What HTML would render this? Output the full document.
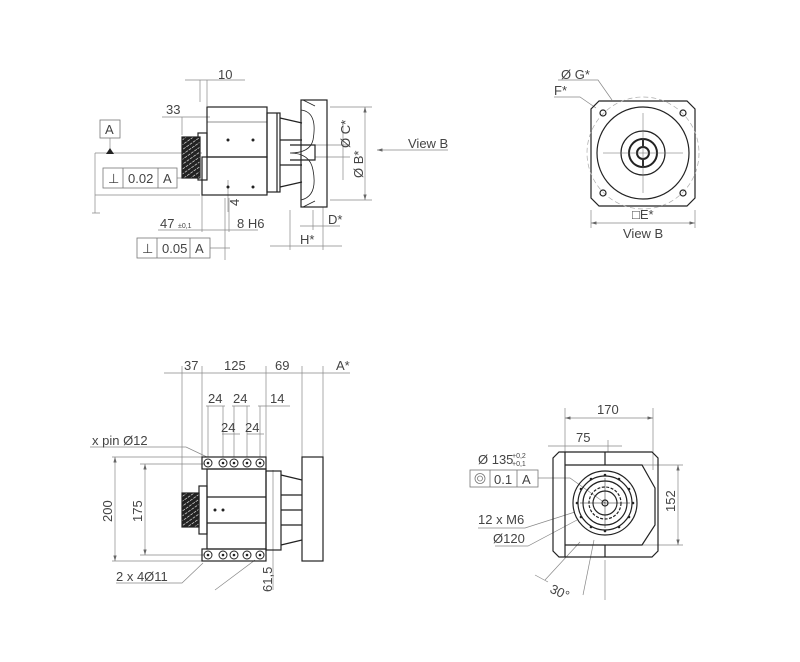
<!DOCTYPE html>
<html><head><meta charset="utf-8"><style>html,body{margin:0;padding:0;background:#fff}svg{display:block}</style></head>
<body>
<svg width="800" height="662" viewBox="0 0 800 662" xmlns="http://www.w3.org/2000/svg" font-family="Liberation Sans, sans-serif" fill="none" stroke="#222">
<defs>
<marker id="a" viewBox="0 0 10 6" refX="10" refY="3" markerWidth="8" markerHeight="5" orient="auto-start-reverse"><path d="M0,0L10,3L0,6z" fill="#666" stroke="none"/></marker>
<pattern id="h" width="4" height="4" patternUnits="userSpaceOnUse" patternTransform="rotate(-35)"><rect width="4" height="4" fill="#fff"/><rect width="4" height="2.4" fill="#222"/></pattern>
</defs>
<g stroke="#888" stroke-width="0.7">
<path d="M185,80H245M200,80V102M207,80V106" />
<path d="M162,117H210M182,117V135" />
<path d="M95,153H202M95,153V213M95,195H200M92,213H100"/>
<path d="M365,107H372M365,200H372M330,107H372M330,200H372" />
<line x1="365" y1="107" x2="365" y2="200" marker-start="url(#a)" marker-end="url(#a)"/>
<line x1="343" y1="122" x2="343" y2="180" />
<path d="M315,145H350M315,157H350"/>
<line x1="448" y1="150" x2="377" y2="150" marker-end="url(#a)"/>
<path d="M202,195V232M225,198V260M229,198V232M228,180V212"/>
<path d="M158,230H258"/>
<path d="M290,210V250M323,207V250M313,210V230"/>
<path d="M270,246H342M300,226H340"/>
<path d="M210,248H230"/>
<path d="M177,178H198"/>
<path d="M110,138V150"/>
<path d="M558,80H598L612,100M554,97H580L596,108"/>
<path d="M591,210V228M695,210V228"/>
<line x1="591" y1="223" x2="695" y2="223" marker-start="url(#a)" marker-end="url(#a)"/>
<path d="M164,373H350M182,366V500M202,366V457M266,366V460M302,366V457M323,366V457"/>
<path d="M208,406V457M223,406V457M234,406V457M247,406V457M260,406V457"/>
<path d="M206,406H225M232,406H250M258,406H290M222,434H240M247,434H264"/>
<path d="M90,447H186L207,457"/>
<path d="M112,457H205M112,561H205M140,464H205M140,555H205"/>
<line x1="115" y1="457" x2="115" y2="561" marker-start="url(#a)" marker-end="url(#a)"/>
<line x1="145" y1="464" x2="145" y2="555" marker-start="url(#a)" marker-end="url(#a)"/>
<path d="M116,583H182L203,563M215,590L255,560M273,470V590"/>
<path d="M565,408V452M653,408V470M608,440V452"/>
<line x1="565" y1="418" x2="653" y2="418" marker-start="url(#a)" marker-end="url(#a)"/>
<path d="M548,446H622"/>
<path d="M640,465H683M640,545H683"/>
<line x1="678" y1="465" x2="678" y2="545" marker-start="url(#a)" marker-end="url(#a)"/>
<path d="M538,478H570L605,503M478,528H525L575,512M495,546H528L577,520M545,580L580,542M583,595L594,540M605,560V600"/>
<path d="M535,575L548,582"/>
</g>
<g stroke-width="1.2">
<rect x="207" y="107" width="60" height="50"/>
<rect x="202" y="157" width="65" height="38"/>
<path d="M207,122H267" stroke-width="0.6"/>
<rect x="198" y="133" width="9" height="47"/>
<rect x="182" y="137" width="18" height="41" fill="url(#h)"/>
<rect x="267" y="113" width="13" height="79"/>
<path d="M277,113V192"/>
<path d="M280,118L302,123M280,187L302,182M280,140H302M280,165H302"/>
<path d="M290,145H315V160H290"/>
<rect x="301" y="100" width="26" height="107"/>
<path d="M301,110Q318,112 313,140Q310,153 290,153Q310,153 313,170Q318,196 301,200" stroke-width="0.8"/>
<path d="M303,100L315,106M303,207L315,201" stroke-width="0.8"/>
</g>
<g fill="#222" stroke="none">
<circle cx="228" cy="140" r="1.5"/><circle cx="253" cy="140" r="1.5"/>
<circle cx="228" cy="187" r="1.5"/><circle cx="253" cy="187" r="1.5"/>
<path d="M110,148L106,154H114z"/>
</g>
<g stroke="#777" stroke-width="0.8" fill="#fff">
<rect x="100" y="120" width="20" height="18"/>
<rect x="103" y="168" width="74" height="20"/><path d="M123,168V188M158,168V188"/>
<rect x="137" y="238" width="73" height="20"/><path d="M157,238V258M190,238V258"/>
</g>
<g fill="#444" stroke="none" font-size="13">
<text x="105" y="134">A</text>
<text x="108" y="183">⊥</text><text x="128" y="183">0.02</text><text x="163" y="183">A</text>
<text x="142" y="253">⊥</text><text x="162" y="253">0.05</text><text x="195" y="253">A</text>
<text x="218" y="79">10</text>
<text x="166" y="114">33</text>
<text x="160" y="228">47</text><text x="178" y="228" font-size="7">±0,1</text>
<text x="237" y="228">8 H6</text>
<text x="239" y="206" transform="rotate(-90 239 206)">4</text>
<text x="328" y="224">D*</text>
<text x="300" y="244">H*</text>
<text x="408" y="148">View B</text>
<text x="350" y="148" transform="rotate(-90 350 148)">Ø C*</text>
<text x="363" y="178" transform="rotate(-90 363 178)">Ø B*</text>
<text x="561" y="79">Ø G*</text>
<text x="554" y="95">F*</text>
<text x="632" y="219">□E*</text>
<text x="623" y="238">View B</text>
<text x="184" y="370">37</text><text x="224" y="370">125</text><text x="275" y="370">69</text><text x="336" y="370">A*</text>
<text x="208" y="403">24</text><text x="233" y="403">24</text><text x="270" y="403">14</text>
<text x="221" y="432">24</text><text x="245" y="432">24</text>
<text x="92" y="445">x pin Ø12</text>
<text x="116" y="581">2 x 4Ø11</text>
<text x="112" y="522" transform="rotate(-90 112 522)">200</text>
<text x="142" y="522" transform="rotate(-90 142 522)">175</text>
<text x="272" y="592" transform="rotate(-90 272 592)">61,5</text>
<text x="597" y="414">170</text>
<text x="576" y="442">75</text>
<text x="478" y="464">Ø 135</text><text x="512" y="458" font-size="7">+0,2</text><text x="512" y="466" font-size="7">+0,1</text>
<text x="478" y="524">12 x M6</text>
<text x="493" y="543">Ø120</text>
<text x="549" y="592" transform="rotate(25 549 592)">30°</text>
<text x="675" y="512" transform="rotate(-90 675 512)">152</text>
</g>
<g stroke-width="1.2">
<path d="M599,101H687L695,109V198L687,206H599L591,198V109Z"/>
<circle cx="643" cy="153" r="56" stroke="#aaa" stroke-width="0.7" stroke-dasharray="5 3"/>
<circle cx="643" cy="153" r="46"/>
<circle cx="643" cy="153" r="22"/>
<circle cx="643" cy="153" r="14" stroke-width="2"/>
<circle cx="643" cy="153" r="6" stroke-width="2"/>
<path d="M643,139V147M643,159V167" stroke-width="2"/>
<path d="M603,153H683M643,113V193" stroke-width="0.5" stroke="#666"/>
<circle cx="603" cy="113" r="3"/><circle cx="683" cy="113" r="3"/><circle cx="603" cy="193" r="3"/><circle cx="683" cy="193" r="3"/>
</g>
<g stroke-width="1.2">
<rect x="202" y="457" width="64" height="12"/>
<rect x="202" y="549" width="64" height="12"/>
<rect x="207" y="469" width="59" height="80"/>
<path d="M207,497H266M207,523H266"/>
<rect x="199" y="486" width="8" height="48"/>
<rect x="182" y="493" width="17" height="34" fill="url(#h)"/>
<rect x="266" y="471" width="15" height="79"/>
<path d="M281,475L302,480M281,545L302,540M281,495H302M281,510H302M281,525H302"/>
<rect x="302" y="457" width="21" height="104"/>
<g stroke-width="1">
<circle cx="208" cy="463" r="4"/><circle cx="223" cy="463" r="4"/><circle cx="234" cy="463" r="4"/><circle cx="247" cy="463" r="4"/><circle cx="260" cy="463" r="4"/>
<circle cx="208" cy="555" r="4"/><circle cx="223" cy="555" r="4"/><circle cx="234" cy="555" r="4"/><circle cx="247" cy="555" r="4"/><circle cx="260" cy="555" r="4"/>
</g>
</g>
<g fill="#222" stroke="none"><circle cx="215" cy="510" r="1.5"/><circle cx="223" cy="510" r="1.5"/>
<circle cx="208" cy="463" r="1.3"/><circle cx="223" cy="463" r="1.3"/><circle cx="234" cy="463" r="1.3"/><circle cx="247" cy="463" r="1.3"/><circle cx="260" cy="463" r="1.3"/>
<circle cx="208" cy="555" r="1.3"/><circle cx="223" cy="555" r="1.3"/><circle cx="234" cy="555" r="1.3"/><circle cx="247" cy="555" r="1.3"/><circle cx="260" cy="555" r="1.3"/></g>
<g stroke-width="1.2">
<path d="M559,452H652L658,458V551L652,557H559L553,551V458Z"/>
<path d="M565,452V557M565,465H642L655,488V525L642,545H565"/>
<path d="M605,452V465M605,545V557"/>
<circle cx="605" cy="503" r="32"/>
<circle cx="605" cy="503" r="27"/>
<circle cx="605" cy="503" r="22"/>
<circle cx="605" cy="503" r="16" stroke-dasharray="3 1.5"/>
<circle cx="605" cy="503" r="12"/>
<circle cx="605" cy="503" r="3"/>
<path d="M580,503H630M605,478V528" stroke-width="0.5"/>
</g>
<g fill="#222" stroke="none">
<circle cx="605" cy="475" r="1.3"/><circle cx="619" cy="479" r="1.3"/><circle cx="629" cy="489" r="1.3"/><circle cx="633" cy="503" r="1.3"/><circle cx="629" cy="517" r="1.3"/><circle cx="619" cy="527" r="1.3"/><circle cx="605" cy="531" r="1.3"/><circle cx="591" cy="527" r="1.3"/><circle cx="581" cy="517" r="1.3"/><circle cx="577" cy="503" r="1.3"/><circle cx="581" cy="489" r="1.3"/><circle cx="591" cy="479" r="1.3"/>
</g>
<g stroke="#777" stroke-width="0.8" fill="#fff">
<rect x="470" y="470" width="68" height="17"/><path d="M490,470V487M517,470V487"/>
<circle cx="480" cy="478.5" r="5"/><circle cx="480" cy="478.5" r="2.5"/>
</g>
<g fill="#444" stroke="none" font-size="13"><text x="494" y="484">0.1</text><text x="522" y="484">A</text></g>
</svg>
</body></html>
